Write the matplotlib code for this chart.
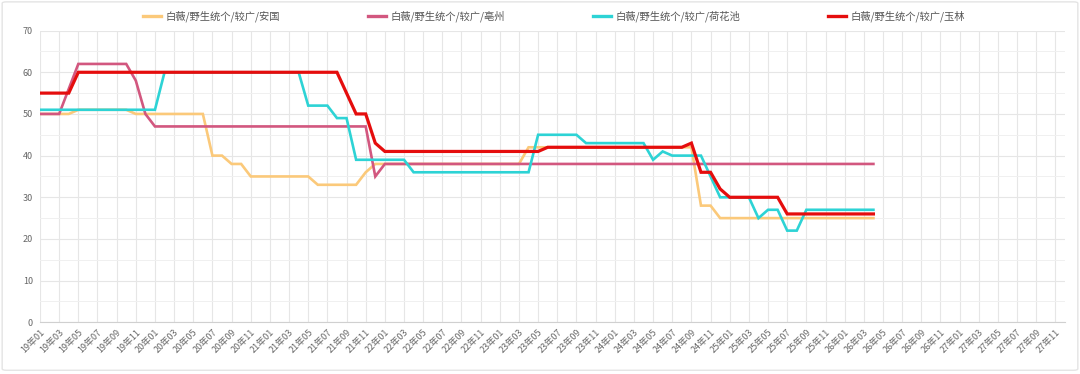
import matplotlib
matplotlib.use("Agg")
import matplotlib.pyplot as plt
from matplotlib.patches import FancyBboxPatch

plt.rcParams['font.family'] = ['Noto Sans CJK SC', 'DejaVu Sans']

# x categories: 19年01 .. 27年12
years = list(range(19, 28))
months = list(range(1, 13))
categories = [f"{y}年{m:02d}" for y in years for m in months]

# series values, monthly from 19年01 to 26年04
anguo = [50, 50, 50, 50, 51, 51, 51, 51, 51, 51, 50, 50, 50, 50, 50, 50, 50, 50, 40, 40,
         38, 38, 35, 35, 35, 35, 35, 35, 35, 33, 33, 33, 33, 33, 36, 38, 38, 38, 38, 38,
         38, 38, 38, 38, 38, 38, 38, 38, 38, 38, 38, 42, 42, 42, 42, 42, 42, 42, 42, 42,
         42, 42, 42, 42, 42, 42, 42, 42, 42, 28, 28, 25, 25, 25, 25, 25, 25, 25, 25, 25,
         25, 25, 25, 25, 25, 25, 25, 25]
bozhou = [50, 50, 50, 56, 62, 62, 62, 62, 62, 62, 58, 50, 47, 47, 47, 47, 47, 47, 47, 47,
          47, 47, 47, 47, 47, 47, 47, 47, 47, 47, 47, 47, 47, 47, 47, 35, 38, 38, 38, 38,
          38, 38, 38, 38, 38, 38, 38, 38, 38, 38, 38, 38, 38, 38, 38, 38, 38, 38, 38, 38,
          38, 38, 38, 38, 38, 38, 38, 38, 38, 38, 38, 38, 38, 38, 38, 38, 38, 38, 38, 38,
          38, 38, 38, 38, 38, 38, 38, 38]
hehuachi = [51, 51, 51, 51, 51, 51, 51, 51, 51, 51, 51, 51, 51, 60, 60, 60, 60, 60, 60, 60,
            60, 60, 60, 60, 60, 60, 60, 60, 52, 52, 52, 49, 49, 39, 39, 39, 39, 39, 39, 36,
            36, 36, 36, 36, 36, 36, 36, 36, 36, 36, 36, 36, 45, 45, 45, 45, 45, 43, 43, 43,
            43, 43, 43, 43, 39, 41, 40, 40, 40, 40, 35, 30, 30, 30, 30, 25, 27, 27, 22, 22,
            27, 27, 27, 27, 27, 27, 27, 27]
yulin = [55, 55, 55, 55, 60, 60, 60, 60, 60, 60, 60, 60, 60, 60, 60, 60, 60, 60, 60, 60,
         60, 60, 60, 60, 60, 60, 60, 60, 60, 60, 60, 60, 55, 50, 50, 43, 41, 41, 41, 41,
         41, 41, 41, 41, 41, 41, 41, 41, 41, 41, 41, 41, 41, 42, 42, 42, 42, 42, 42, 42,
         42, 42, 42, 42, 42, 42, 42, 42, 43, 36, 36, 32, 30, 30, 30, 30, 30, 30, 26, 26,
         26, 26, 26, 26, 26, 26, 26, 26]

series_names = ["白薇/野生统个/较广/安国", "白薇/野生统个/较广/亳州",
                "白薇/野生统个/较广/荷花池", "白薇/野生统个/较广/玉林"]
series_data = [anguo, bozhou, hehuachi, yulin]
colors = ["#fbc97a", "#d2577f", "#2dd3d5", "#e50d0d"]
widths = [1.9, 1.9, 1.9, 2.3]

fig = plt.figure(figsize=(10.8, 3.74), dpi=100)
fig.patches.append(FancyBboxPatch((0.002, 0.01), 0.996, 0.985, boxstyle="round,pad=0,rounding_size=0.004",
                                  transform=fig.transFigure, facecolor="none", edgecolor="#e4e4e4", lw=1))
ax = fig.add_axes([40 / 1080, 1 - 322.3 / 374, 1025 / 1080, (322.3 - 30.6) / 374])

x = list(range(len(categories)))
for name, vals, c, w in zip(series_names, series_data, colors, widths):
    ax.plot(x[:len(vals)], vals, color=c, lw=w, label=name, solid_joinstyle="miter")

ax.set_xlim(0, len(categories) - 1)
ax.set_ylim(0, 70)
ax.set_xticks(x[::2])
ax.set_xticklabels(categories[::2], rotation=45, ha="right", rotation_mode="anchor",
                   fontsize=6.5, color="#666666")
ax.set_yticks(range(0, 71, 10))
ax.set_yticklabels([str(v) for v in range(0, 71, 10)], fontsize=6.5, color="#666666")
ax.set_yticks(range(5, 70, 10), minor=True)
ax.tick_params(axis="both", which="both", length=0)
ax.tick_params(axis="x", pad=4)
ax.tick_params(axis="y", pad=5)
ax.grid(True, which="major", color="#e6e6e6", lw=0.8)
ax.grid(True, which="minor", axis="y", color="#f0f0f0", lw=0.7)
for s in ["top", "right", "left"]:
    ax.spines[s].set_visible(False)
ax.spines["bottom"].set_color("#d0d0d0")
ax.set_axisbelow(True)

leg = fig.legend(loc="center", bbox_to_anchor=(0.513, 0.956), ncol=4, frameon=False,
                 fontsize=7.4, handlelength=1.7, handletextpad=0.45, columnspacing=8.6)
for t in leg.get_texts():
    t.set_color("#555555")
for h in leg.get_lines():
    h.set_linewidth(2.4)

fig.savefig("out.png", dpi=100)
